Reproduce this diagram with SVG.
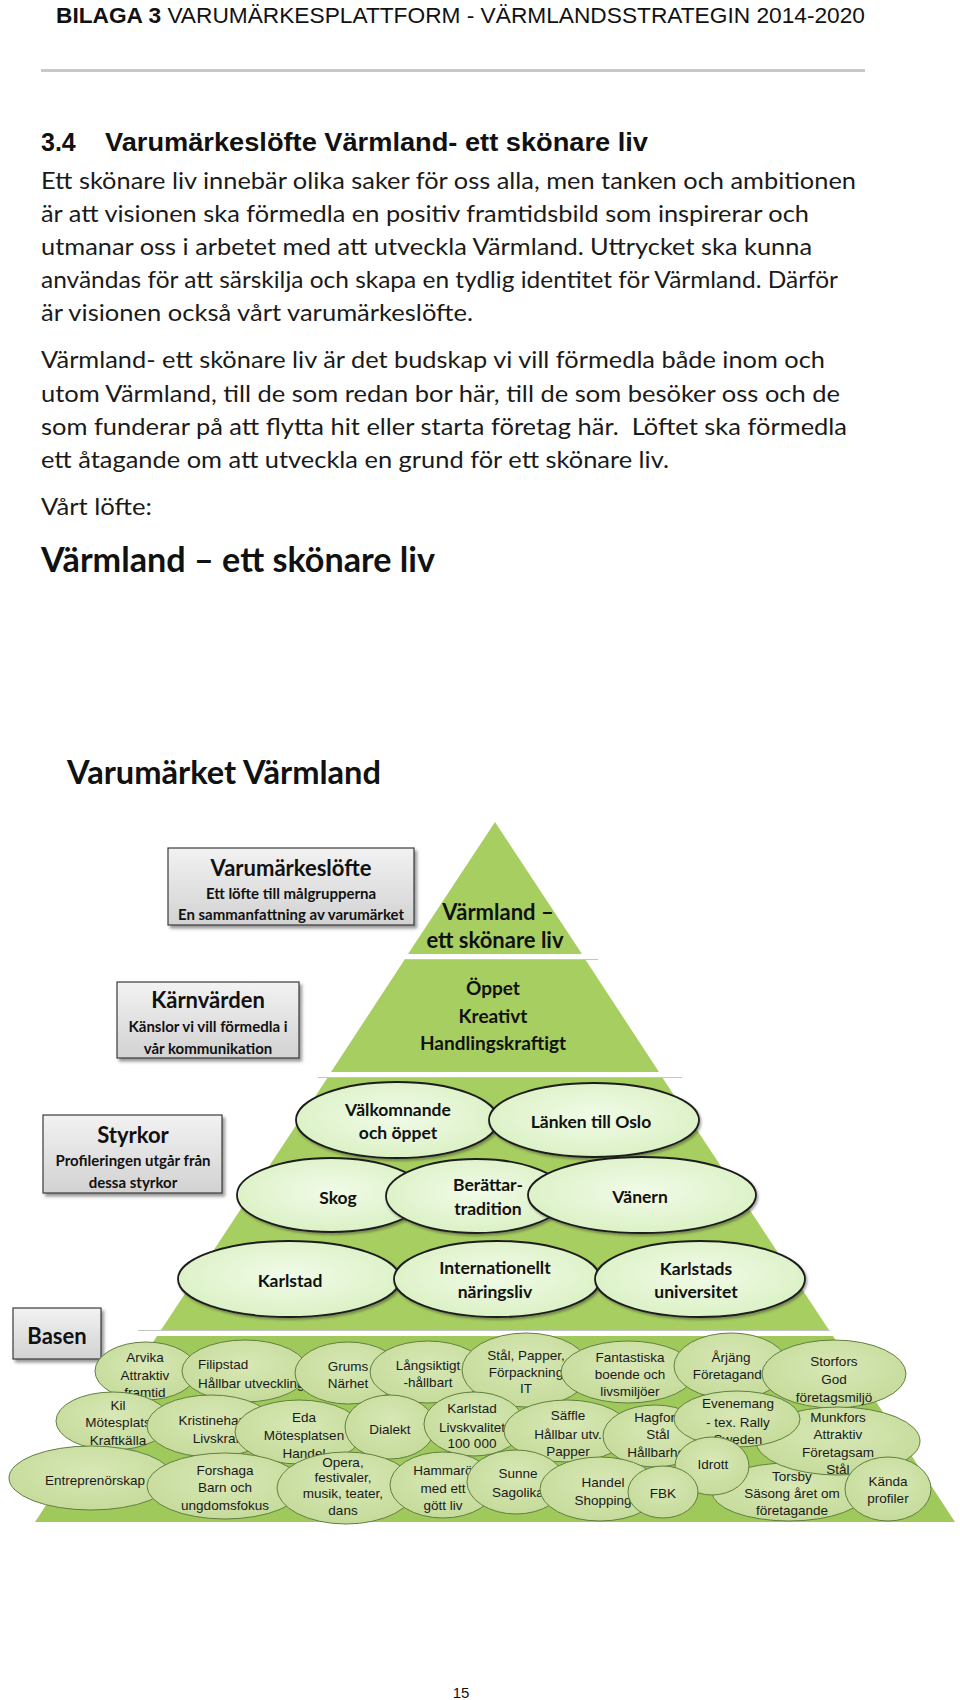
<svg xmlns="http://www.w3.org/2000/svg" width="960" height="1700" viewBox="0 0 960 1700">
<defs>
<style>
.hdr{font-family:"Liberation Sans",Arial,sans-serif;font-size:22px;fill:#111}
.h2{font-family:"Liberation Sans",Arial,sans-serif;font-size:25px;font-weight:bold;fill:#111}
.body{font-family:Lato,"Open Sans",sans-serif;font-size:22.5px;fill:#1a1a1a}
.big{font-family:Lato,"Open Sans",sans-serif;font-size:34px;font-weight:bold;fill:#111}
.dt{font-family:Lato,"Open Sans",sans-serif;font-weight:bold;fill:#111;text-anchor:middle}
.title{font-family:Lato,"Open Sans",sans-serif;font-size:32px;font-weight:bold;fill:#111}
.box{fill:url(#gbox);stroke:#3a3a3a;stroke-width:1.2;filter:url(#sh)}
.pyr{fill:#a7ce60}
.base{fill:#9fc95b}
.sep{fill:#fff}
.sepl{stroke:#c4c4c4;stroke-width:1.2}
.e3{fill:url(#g3);stroke:#1e1e1e;stroke-width:1.8;filter:url(#sh2)}
.eb{fill:url(#gb);stroke:#627f3f;stroke-width:1}
.bt{font-family:"Liberation Sans",Arial,sans-serif;font-size:13.5px;fill:#1a1a1a;text-anchor:middle}
.btl{font-family:"Liberation Sans",Arial,sans-serif;font-size:13.5px;fill:#1a1a1a}
</style>
<linearGradient id="gbox" x1="0" y1="0" x2="0" y2="1">
<stop offset="0" stop-color="#f2f2f2"/><stop offset="1" stop-color="#d2d2d2"/>
</linearGradient>
<radialGradient id="g3" cx="0.5" cy="0.45" r="0.6">
<stop offset="0" stop-color="#f1fbe8"/><stop offset="1" stop-color="#d9f0c2"/>
</radialGradient>
<radialGradient id="gb" cx="0.5" cy="0.4" r="0.6">
<stop offset="0" stop-color="#d8e8b6"/><stop offset="1" stop-color="#c5db9a"/>
</radialGradient>
<filter id="sh" x="-10%" y="-10%" width="125%" height="130%">
<feDropShadow dx="2.5" dy="3" stdDeviation="1.5" flood-color="#555" flood-opacity="0.6"/>
</filter>
<filter id="sh2" x="-10%" y="-10%" width="125%" height="130%">
<feDropShadow dx="1.5" dy="2" stdDeviation="1.2" flood-color="#333" flood-opacity="0.45"/>
</filter>
</defs>
<rect width="960" height="1700" fill="#fff"/>

<g id="page-header">
<text class="hdr" x="56" y="23" textLength="809" lengthAdjust="spacingAndGlyphs"><tspan font-weight="bold">BILAGA 3</tspan> VARUMÄRKESPLATTFORM - VÄRMLANDSSTRATEGIN 2014-2020</text>
<rect x="41" y="69" width="824" height="3" fill="#c8c8c8"/>
</g>

<g id="section-text">
<text class="h2" x="41" y="151">3.4</text>
<text class="h2" x="105" y="151" textLength="543" lengthAdjust="spacingAndGlyphs">Varumärkeslöfte Värmland- ett skönare liv</text>
<text class="body" x="41" y="189" textLength="815" lengthAdjust="spacingAndGlyphs">Ett skönare liv innebär olika saker för oss alla, men tanken och ambitionen</text>
<text class="body" x="41" y="222" textLength="768" lengthAdjust="spacingAndGlyphs">är att visionen ska förmedla en positiv framtidsbild som inspirerar och</text>
<text class="body" x="41" y="255" textLength="771" lengthAdjust="spacingAndGlyphs">utmanar oss i arbetet med att utveckla Värmland. Uttrycket ska kunna</text>
<text class="body" x="41" y="288" textLength="797" lengthAdjust="spacingAndGlyphs">användas för att särskilja och skapa en tydlig identitet för Värmland. Därför</text>
<text class="body" x="41" y="321" textLength="432" lengthAdjust="spacingAndGlyphs">är visionen också vårt varumärkeslöfte.</text>
<text class="body" x="41" y="368" textLength="784" lengthAdjust="spacingAndGlyphs">Värmland- ett skönare liv är det budskap vi vill förmedla både inom och</text>
<text class="body" x="41" y="402" textLength="799" lengthAdjust="spacingAndGlyphs">utom Värmland, till de som redan bor här, till de som besöker oss och de</text>
<text class="body" x="41" y="435" textLength="806" lengthAdjust="spacingAndGlyphs" xml:space="preserve">som funderar på att flytta hit eller starta företag här.  Löftet ska förmedla</text>
<text class="body" x="41" y="468" textLength="628" lengthAdjust="spacingAndGlyphs">ett åtagande om att utveckla en grund för ett skönare liv.</text>
<text class="body" x="41" y="515" textLength="111" lengthAdjust="spacingAndGlyphs">Vårt löfte:</text>
<text class="big" x="41" y="572" textLength="394" lengthAdjust="spacingAndGlyphs">Värmland – ett skönare liv</text>
</g>

<g id="diagram-title">
<text class="title" x="67" y="784" textLength="314" lengthAdjust="spacingAndGlyphs">Varumärket Värmland</text>
</g>

<g id="pyramid">
<polygon class="pyr" points="495,822 408,954 582,954"/>
<polygon class="pyr" points="405,959 585,959 659,1072 331,1072"/>
<polygon class="pyr" points="328,1077 662,1077 829,1330 161,1330"/>
<polygon class="base" points="157,1336 833,1336 955,1522 35,1522"/>
<rect class="sep" x="406" y="954" width="190" height="5"/>
<line class="sepl" x1="406" y1="959.5" x2="598" y2="959.5"/>
<rect class="sep" x="318" y="1072" width="362" height="5"/>
<line class="sepl" x1="318" y1="1077.5" x2="682" y2="1077.5"/>
<rect class="sep" x="138" y="1330" width="692" height="6"/>
<line class="sepl" x1="138" y1="1330.5" x2="830" y2="1330.5"/>
</g>

<g id="node-lofte">
<text class="dt" x="498" y="920" font-size="22">Värmland –</text>
<text class="dt" x="495" y="948" font-size="22">ett skönare liv</text>
</g>
<g id="node-karnvarden">
<text class="dt" x="493" y="995" font-size="19">Öppet</text>
<text class="dt" x="493" y="1023" font-size="19">Kreativt</text>
<text class="dt" x="493" y="1050" font-size="19">Handlingskraftigt</text>
</g>

<g id="box-varumarkeslofte">
<rect class="box" x="168" y="848" width="246" height="77"/>
<text class="dt" x="291" y="876" font-size="22">Varumärkeslöfte</text>
<text class="dt" x="291" y="899" font-size="15">Ett löfte till målgrupperna</text>
<text class="dt" x="291" y="920" font-size="15">En sammanfattning av varumärket</text>
</g>
<g id="box-karnvarden">
<rect class="box" x="117" y="982" width="182" height="76"/>
<text class="dt" x="208" y="1008" font-size="22">Kärnvärden</text>
<text class="dt" x="208" y="1032" font-size="15">Känslor vi vill förmedla i</text>
<text class="dt" x="208" y="1054" font-size="15">vår kommunikation</text>
</g>
<g id="box-styrkor">
<rect class="box" x="43" y="1115" width="179" height="78"/>
<text class="dt" x="133" y="1143" font-size="22">Styrkor</text>
<text class="dt" x="133" y="1166" font-size="15">Profileringen utgår från</text>
<text class="dt" x="133" y="1188" font-size="15">dessa styrkor</text>
</g>
<g id="box-basen">
<rect class="box" x="13" y="1308" width="88" height="51"/>
<text class="dt" x="57" y="1344" font-size="22">Basen</text>
</g>

<g id="s-valkomnande"><ellipse class="e3" cx="397" cy="1120" rx="101" ry="38"/>
<text class="dt" x="398" y="1116" font-size="17.5">Välkomnande</text><text class="dt" x="398" y="1139" font-size="17.5">och öppet</text></g>
<g id="s-lanken"><ellipse class="e3" cx="594" cy="1120" rx="105" ry="37"/>
<text class="dt" x="591" y="1128" font-size="17.5">Länken till Oslo</text></g>
<g id="s-skog"><ellipse class="e3" cx="331" cy="1195" rx="94" ry="37"/>
<text class="dt" x="338" y="1204" font-size="17.5">Skog</text></g>
<g id="s-berattar"><ellipse class="e3" cx="476" cy="1196" rx="90" ry="37"/>
<text class="dt" x="488" y="1191" font-size="17.5">Berättar-</text><text class="dt" x="488" y="1215" font-size="17.5">tradition</text></g>
<g id="s-vanern"><ellipse class="e3" cx="642" cy="1195" rx="114" ry="38"/>
<text class="dt" x="640" y="1203" font-size="17.5">Vänern</text></g>
<g id="s-karlstad"><ellipse class="e3" cx="289" cy="1279" rx="111" ry="38"/>
<text class="dt" x="290" y="1287" font-size="17.5">Karlstad</text></g>
<g id="s-internationellt"><ellipse class="e3" cx="497" cy="1279" rx="103" ry="38"/>
<text class="dt" x="495" y="1274" font-size="17.5">Internationellt</text><text class="dt" x="495" y="1298" font-size="17.5">näringsliv</text></g>
<g id="s-universitet"><ellipse class="e3" cx="700" cy="1279" rx="105" ry="38"/>
<text class="dt" x="696" y="1275" font-size="17.5">Karlstads</text><text class="dt" x="696" y="1298" font-size="17.5">universitet</text></g>

<g id="b-arvika"><ellipse class="eb" cx="146" cy="1371" rx="51" ry="29"/>
<text class="bt" x="145" y="1362">Arvika</text><text class="bt" x="145" y="1380">Attraktiv</text><text class="bt" x="145" y="1397">framtid</text></g>
<g id="b-filipstad"><ellipse class="eb" cx="245" cy="1371" rx="63" ry="31"/>
<text class="btl" x="198" y="1369">Filipstad</text><text class="btl" x="198" y="1388">Hållbar utveckling</text></g>
<g id="b-grums"><ellipse class="eb" cx="348" cy="1373" rx="53" ry="31"/>
<text class="bt" x="348" y="1371">Grums</text><text class="bt" x="348" y="1388">Närhet</text></g>
<g id="b-langsiktigt"><ellipse class="eb" cx="428" cy="1372" rx="58" ry="31"/>
<text class="bt" x="428" y="1370">Långsiktigt</text><text class="bt" x="428" y="1387">-hållbart</text></g>
<g id="b-stal"><ellipse class="eb" cx="526" cy="1370" rx="64" ry="37"/>
<text class="bt" x="526" y="1360">Stål, Papper,</text><text class="bt" x="526" y="1377">Förpackning</text><text class="bt" x="526" y="1393">IT</text></g>
<g id="b-fantastiska"><ellipse class="eb" cx="628" cy="1372" rx="67" ry="31"/>
<text class="bt" x="630" y="1362">Fantastiska</text><text class="bt" x="630" y="1379">boende och</text><text class="bt" x="630" y="1396">livsmiljöer</text></g>
<g id="b-arjang"><ellipse class="eb" cx="731" cy="1366" rx="57" ry="33"/>
<text class="bt" x="731" y="1362">Årjäng</text><text class="bt" x="731" y="1379">Företagande</text></g>
<g id="b-storfors"><ellipse class="eb" cx="834" cy="1374" rx="72" ry="34"/>
<text class="bt" x="834" y="1366">Storfors</text><text class="bt" x="834" y="1384">God</text><text class="bt" x="834" y="1402">företagsmiljö</text></g>

<g id="b-kil"><ellipse class="eb" cx="113" cy="1421" rx="57" ry="29"/>
<text class="bt" x="118" y="1410">Kil</text><text class="bt" x="118" y="1427">Mötesplats</text><text class="bt" x="118" y="1445">Kraftkälla</text></g>
<g id="b-kristinehamn"><ellipse class="eb" cx="211" cy="1426" rx="64" ry="31"/>
<text class="bt" x="218" y="1425">Kristinehamn</text><text class="bt" x="218" y="1443">Livskraft</text></g>
<g id="b-eda"><ellipse class="eb" cx="299" cy="1432" rx="64" ry="32"/>
<text class="bt" x="304" y="1422">Eda</text><text class="bt" x="304" y="1440">Mötesplatsen</text><text class="bt" x="304" y="1458">Handel</text></g>
<g id="b-dialekt"><ellipse class="eb" cx="390" cy="1427" rx="45" ry="32"/>
<text class="bt" x="390" y="1434">Dialekt</text></g>
<g id="b-karlstad"><ellipse class="eb" cx="474" cy="1424" rx="50" ry="32"/>
<text class="bt" x="472" y="1413">Karlstad</text><text class="bt" x="472" y="1432">Livskvalitet</text><text class="bt" x="472" y="1448">100 000</text></g>
<g id="b-saffle"><ellipse class="eb" cx="567" cy="1431" rx="63" ry="31"/>
<text class="bt" x="568" y="1420">Säffle</text><text class="bt" x="568" y="1439">Hållbar utv.</text><text class="bt" x="568" y="1456">Papper</text></g>
<g id="b-hagfors"><ellipse class="eb" cx="655" cy="1436" rx="52" ry="31"/>
<text class="bt" x="658" y="1422">Hagfors</text><text class="bt" x="658" y="1439">Stål</text><text class="bt" x="658" y="1457">Hållbarhet</text></g>
<g id="b-torsby"><ellipse class="eb" cx="789" cy="1492" rx="77" ry="29"/>
<text class="bt" x="792" y="1481">Torsby</text><text class="bt" x="792" y="1498">Säsong året om</text><text class="bt" x="792" y="1515">företagande</text></g>
<g id="b-munkfors"><ellipse class="eb" cx="838" cy="1441" rx="82" ry="34"/>
<text class="bt" x="838" y="1422">Munkfors</text><text class="bt" x="838" y="1439">Attraktiv</text><text class="bt" x="838" y="1457">Företagsam</text><text class="bt" x="838" y="1474">Stål</text></g>
<g id="b-evenemang"><ellipse class="eb" cx="737" cy="1419" rx="63" ry="28"/>
<text class="bt" x="738" y="1408">Evenemang</text><text class="bt" x="738" y="1427">- tex. Rally</text><text class="bt" x="738" y="1444">Sweden</text></g>
<g id="b-idrott"><ellipse class="eb" cx="712" cy="1466" rx="37" ry="29"/>
<text class="bt" x="713" y="1469">Idrott</text></g>

<g id="b-entreprenorskap"><ellipse class="eb" cx="91" cy="1478" rx="82" ry="32"/>
<text class="bt" x="95" y="1485">Entreprenörskap</text></g>
<g id="b-forshaga"><ellipse class="eb" cx="225" cy="1486" rx="78" ry="33"/>
<text class="bt" x="225" y="1475">Forshaga</text><text class="bt" x="225" y="1492">Barn och</text><text class="bt" x="225" y="1510">ungdomsfokus</text></g>
<g id="b-opera"><ellipse class="eb" cx="346" cy="1488" rx="69" ry="36"/>
<text class="bt" x="343" y="1467">Opera,</text><text class="bt" x="343" y="1482">festivaler,</text><text class="bt" x="343" y="1498">musik, teater,</text><text class="bt" x="343" y="1515">dans</text></g>
<g id="b-hammaro"><ellipse class="eb" cx="443" cy="1485" rx="53" ry="33"/>
<text class="bt" x="443" y="1475">Hammarö</text><text class="bt" x="443" y="1493">med ett</text><text class="bt" x="443" y="1510">gött liv</text></g>
<g id="b-sunne"><ellipse class="eb" cx="516" cy="1482" rx="49" ry="32"/>
<text class="bt" x="518" y="1478">Sunne</text><text class="bt" x="518" y="1497">Sagolika</text></g>
<g id="b-handel"><ellipse class="eb" cx="600" cy="1489" rx="60" ry="32"/>
<text class="bt" x="603" y="1487">Handel</text><text class="bt" x="603" y="1505">Shopping</text></g>
<g id="b-fbk"><ellipse class="eb" cx="663" cy="1492" rx="35" ry="26"/>
<text class="bt" x="663" y="1498">FBK</text></g>
<g id="b-kanda"><ellipse class="eb" cx="888" cy="1489" rx="43" ry="32"/>
<text class="bt" x="888" y="1486">Kända</text><text class="bt" x="888" y="1503">profiler</text></g>

<g id="connectors"/>

<g id="page-number">
<text x="461" y="1698" font-family="Liberation Sans,Arial,sans-serif" font-size="15" fill="#111" text-anchor="middle">15</text>
</g>
</svg>
